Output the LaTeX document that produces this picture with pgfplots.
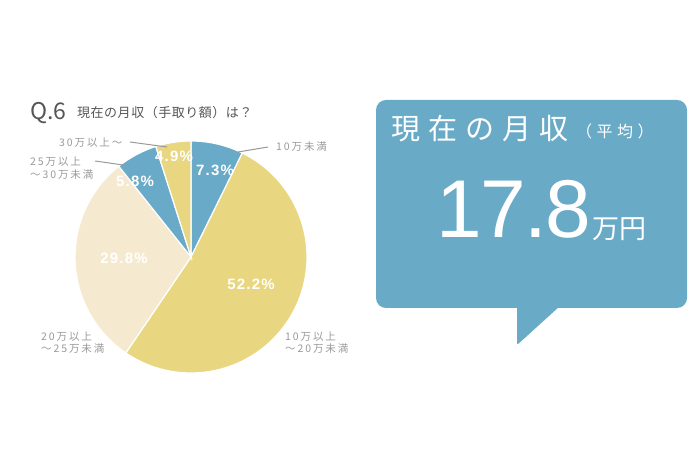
\documentclass[border=0pt]{standalone}
\usepackage{pgfplots}
\pgfplotsset{compat=1.18}
\usepackage{fontspec}
\setmainfont{Noto Sans CJK JP}
\newfontfamily\titlefont[LetterSpace=4]{Noto Sans CJK JP}
\newfontfamily\labfont[LetterSpace=18]{Noto Sans CJK JP}
\newfontfamily\boxfont[LetterSpace=28]{Noto Sans CJK JP}
\newfontfamily\numfont[LetterSpace=-2]{Liberation Sans}
\newfontfamily\pctfont[LetterSpace=8]{Liberation Sans}

\definecolor{pieblue}{HTML}{69AAC8}
\definecolor{pieyellow}{HTML}{E8D680}
\definecolor{piecream}{HTML}{F5EAD0}
\definecolor{boxblue}{HTML}{69AAC7}
\definecolor{labgray}{HTML}{999999}
\definecolor{titlegray}{HTML}{555555}

\begin{document}
\begin{tikzpicture}
\path (0,0) rectangle (690pt,460pt);
\begin{axis}[
    at={(0,0)}, anchor=south west,
    scale only axis,
    width=690pt, height=460pt,
    xmin=0, xmax=690, ymin=0, ymax=460,
    hide axis,
    clip=false,
]
% pie: shares in percent, clockwise from 12 o'clock
% 7.3 (10万未満), 52.2, 29.8, 5.8, 4.9
\fill[pieblue, draw=white, line width=1.2pt] (axis cs:191,203) -- ++(90:116pt)
    arc[start angle=90, end angle={90-3.6*7.3}, radius=116pt] -- cycle;
\fill[pieyellow, draw=white, line width=1.2pt] (axis cs:191,203) -- ++({90-3.6*7.3}:116pt)
    arc[start angle={90-3.6*7.3}, end angle={90-3.6*(7.3+52.2)}, radius=116pt] -- cycle;
\fill[piecream, draw=white, line width=1.2pt] (axis cs:191,203) -- ++({90-3.6*(7.3+52.2)}:116pt)
    arc[start angle={90-3.6*(7.3+52.2)}, end angle={90-3.6*(7.3+52.2+29.8)}, radius=116pt] -- cycle;
\fill[pieblue, draw=white, line width=1.2pt] (axis cs:191,203) -- ++({90-3.6*(7.3+52.2+29.8)}:116pt)
    arc[start angle={90-3.6*(7.3+52.2+29.8)}, end angle={90-3.6*(7.3+52.2+29.8+5.8)}, radius=116pt] -- cycle;
\fill[pieyellow, draw=white, line width=1.2pt] (axis cs:191,203) -- ++({90-3.6*(7.3+52.2+29.8+5.8)}:116pt)
    arc[start angle={90-3.6*(7.3+52.2+29.8+5.8)}, end angle={90-3.6*100}, radius=116pt] -- cycle;

% percentages
\begin{scope}[every node/.style={white, font=\pctfont\bfseries\fontsize{15}{15}\selectfont, inner sep=0pt}]
\node at (axis cs:215,290) {7.3\%};
\node at (axis cs:251,176) {52.2\%};
\node at (axis cs:124,202) {29.8\%};
\node at (axis cs:135,279) {5.8\%};
\node at (axis cs:174,304) {4.9\%};
\end{scope}

% leader lines
\draw[labgray, line width=1pt] (axis cs:238,308) -- (axis cs:268,313);
\draw[labgray, line width=1pt] (axis cs:130,318) -- (axis cs:167,313);
\draw[labgray, line width=1pt] (axis cs:95,299) -- (axis cs:130,294);

% category labels
\begin{scope}[every node/.style={labgray, font=\labfont\fontsize{10.5}{10.5}\selectfont, inner sep=0pt, anchor=base west}]
\node at (axis cs:276,309) {10万未満};
\node at (axis cs:285,119) {10万以上};
\node at (axis cs:285,107) {～20万未満};
\node at (axis cs:41,119) {20万以上};
\node at (axis cs:41,107) {～25万未満};
\node at (axis cs:30,294) {25万以上};
\node at (axis cs:30,281) {～30万未満};
\node at (axis cs:59,313) {30万以上～};
\end{scope}

% title
\node[titlegray, anchor=base west, inner sep=0pt, font=\fontsize{23}{23}\selectfont] at (axis cs:30,340) {Q.6};
\node[titlegray, anchor=base west, inner sep=0pt, font=\titlefont\fontsize{13}{13}\selectfont] at (axis cs:77,342) {現在の月収（手取り額）は？};

% callout box
\fill[boxblue, rounded corners=10pt] (axis cs:376,152) rectangle (axis cs:687,360);
\fill[boxblue, rounded corners=1.5pt] (axis cs:517,154) -- (axis cs:517,115) -- (axis cs:560,154) -- cycle;
\node[white, anchor=base west, inner sep=0pt, font=\boxfont\fontsize{29}{29}\selectfont] at (axis cs:391,320) {現在の月収};
\node[white, anchor=base west, inner sep=0pt, font=\boxfont\fontsize{16}{16}\selectfont] at (axis cs:576,322) {（平均）};
\node[white, anchor=base west, inner sep=0pt, font=\numfont\fontsize{82}{82}\selectfont] at (axis cs:436,222) {17.8};
\node[white, anchor=base west, inner sep=0pt, font=\fontsize{27}{27}\selectfont] at (axis cs:592,221) {万円};
\end{axis}
\end{tikzpicture}
\end{document}
